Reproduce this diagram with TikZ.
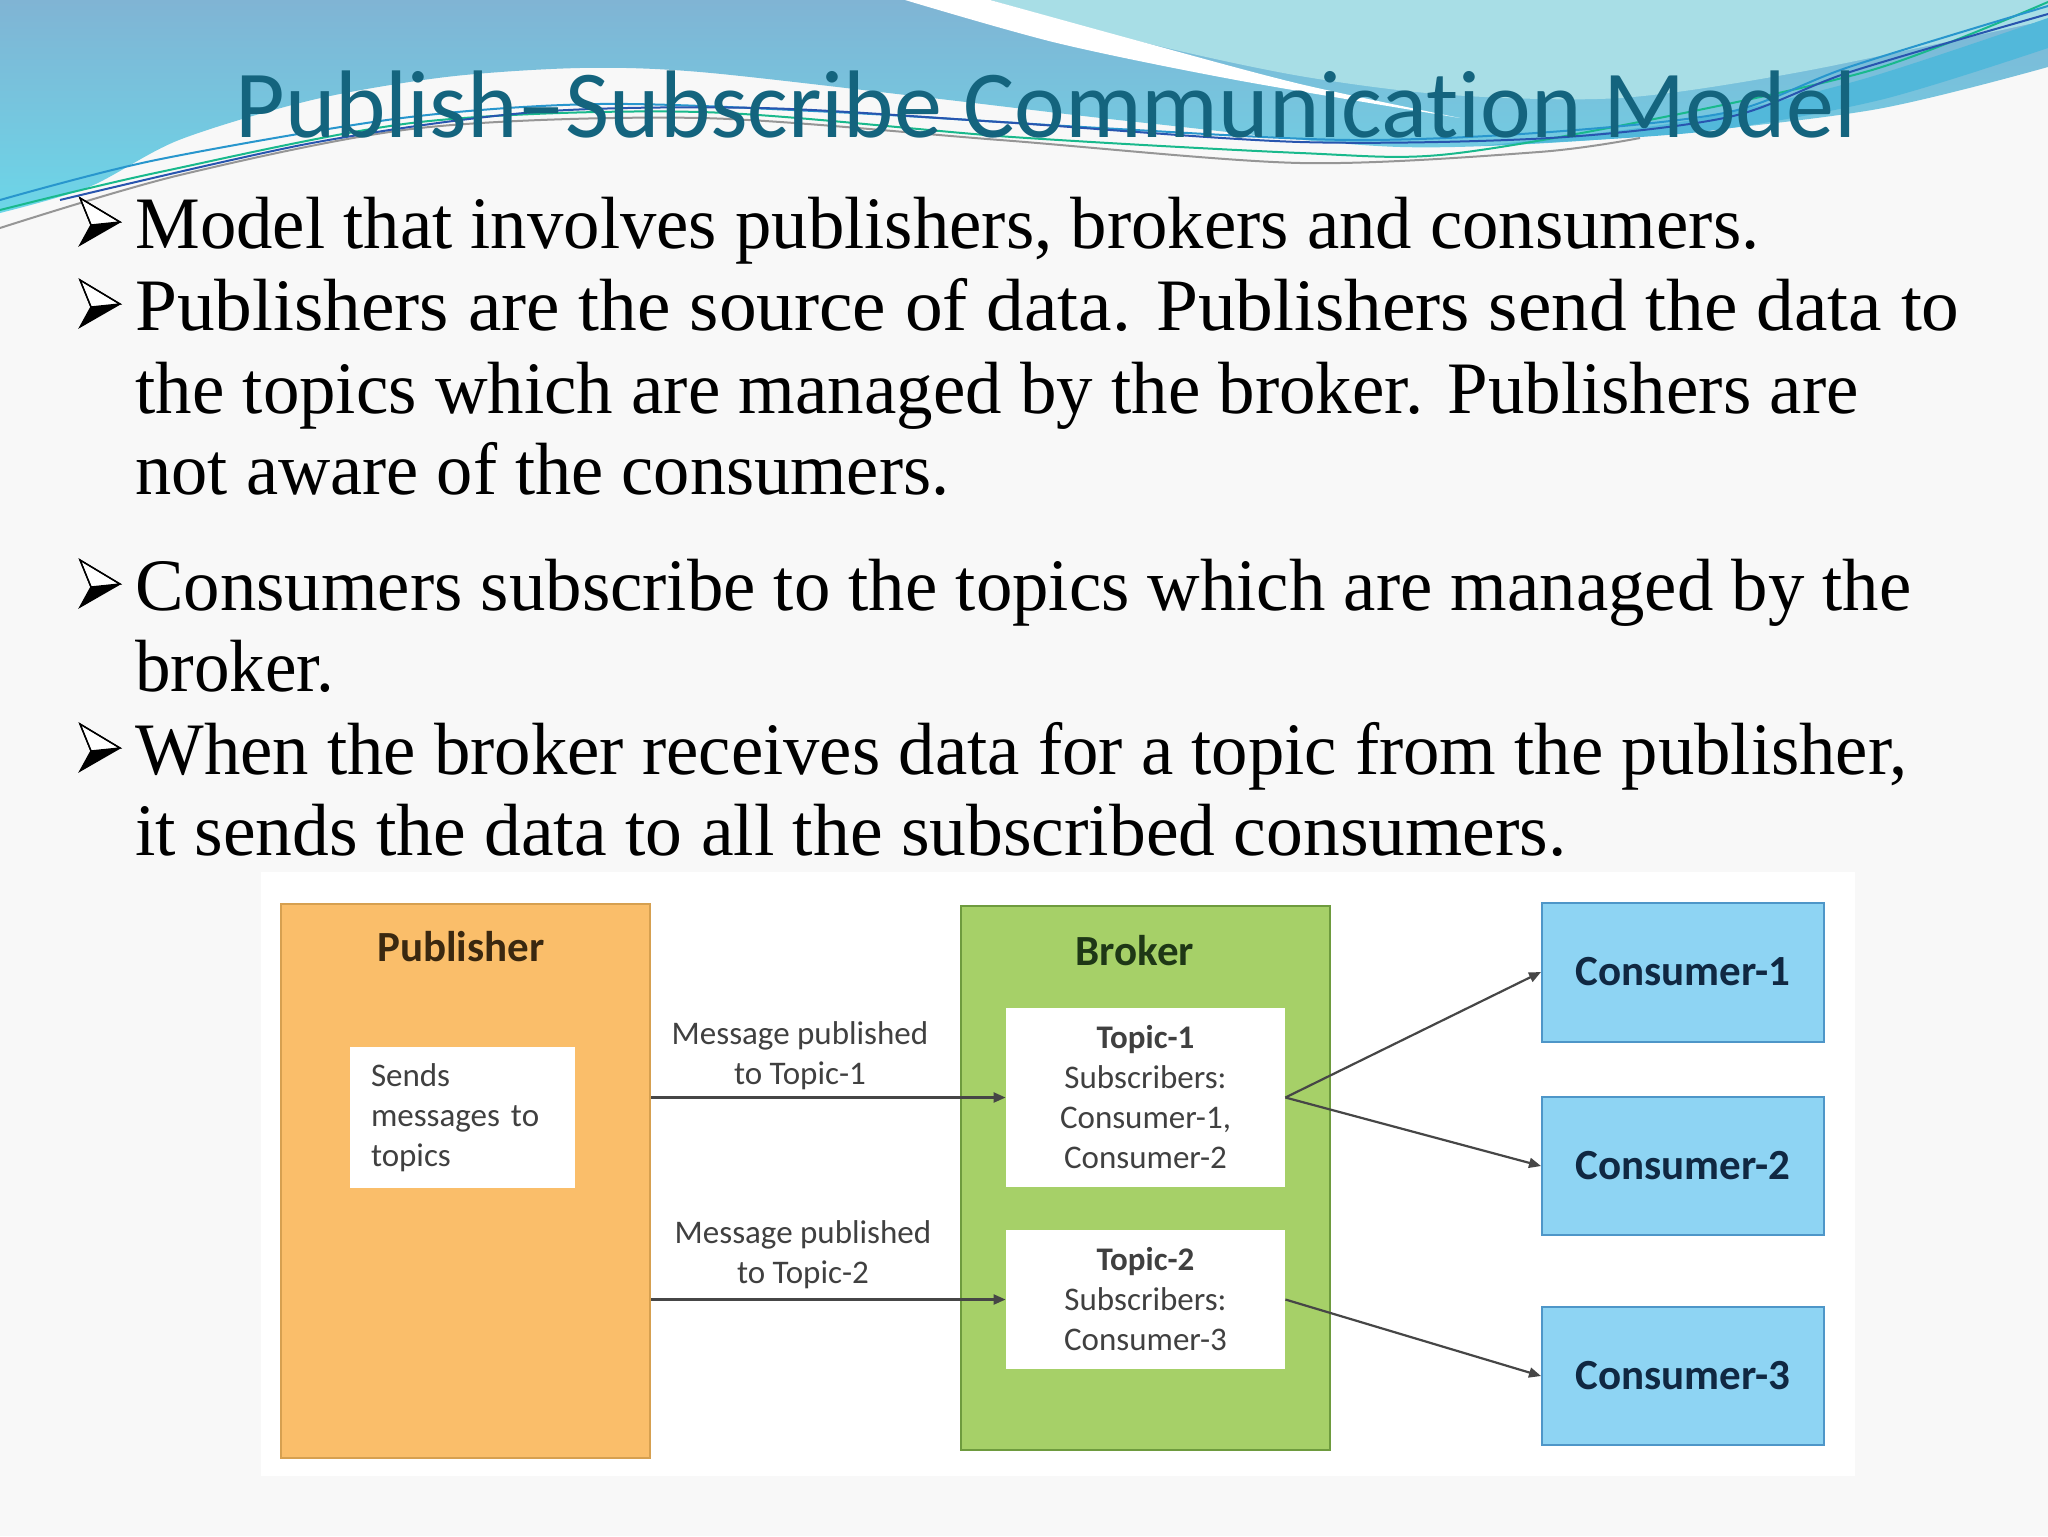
\documentclass[tikz,border=0pt]{standalone}
\usepackage{fontspec}
\usepackage{graphicx}
\setmainfont{Liberation Serif}
\newfontfamily\calfont[Ligatures=CommonOff]{Carlito}
\usetikzlibrary{arrows.meta}
\definecolor{slidebg}{RGB}{248,248,248}
\definecolor{bluetop}{RGB}{128,180,212}
\definecolor{bluebot}{RGB}{108,214,232}
\definecolor{lightcyan}{RGB}{168,222,230}
\definecolor{stripe}{RGB}{82,184,218}
\definecolor{titlecol}{RGB}{20,100,126}
\definecolor{lnblue}{RGB}{40,150,205}
\definecolor{lndark}{RGB}{40,85,175}
\definecolor{lngreen}{RGB}{25,185,140}
\definecolor{lngray}{RGB}{150,150,150}
\definecolor{pubfill}{RGB}{250,190,106}
\definecolor{pubdraw}{RGB}{214,160,80}
\definecolor{brokfill}{RGB}{166,208,104}
\definecolor{brokdraw}{RGB}{110,155,62}
\definecolor{consfill}{RGB}{142,212,243}
\definecolor{consdraw}{RGB}{78,150,200}
\definecolor{txtgray}{RGB}{64,64,64}
\definecolor{pubtxt}{RGB}{58,40,16}
\definecolor{broktxt}{RGB}{30,55,22}
\definecolor{constxt}{RGB}{16,40,66}
\definecolor{arrcol}{RGB}{70,70,70}
\newcommand\fitw[2]{\resizebox{#1}{\height}{#2}}
\begin{document}
\begin{tikzpicture}[x=0.5pt,y=-0.5pt,
  bodyline/.style={anchor=base west, inner sep=0pt, font=\fontsize{37pt}{44pt}\selectfont},
  bul/.pic={
    \fill[black] (11,-23) -- (40,-26) -- (0,-3) -- cycle;
    \filldraw[fill=white, draw=black, line width=0.7pt, line join=miter] (0,-50) -- (40,-26) -- (11,-23) -- cycle;
    \draw[black, line width=0.7pt, line join=miter] (0,-50) -- (40,-26) -- (0,-3) -- (11,-23) -- cycle;
  },
  dtext/.style={font=\calfont\fontsize{16.5pt}{20pt}\selectfont, text=txtgray},
  pubbox/.style={draw=pubdraw, fill=pubfill, line width=1pt, inner sep=0pt},
  brokbox/.style={draw=brokdraw, fill=brokfill, line width=1pt, inner sep=0pt},
  consbox/.style={draw=consdraw, fill=consfill, line width=1pt, inner sep=0pt,
    font=\calfont\bfseries\fontsize{21.5pt}{26pt}\selectfont, text=constxt},
  whitebox/.style={fill=white, inner sep=0pt, dtext},
  boxtitle/.style={inner sep=0pt, font=\calfont\bfseries\fontsize{21.5pt}{26pt}\selectfont},
  lbl/.style={dtext, align=center, inner sep=0pt},
  arr/.style={draw=arrcol, line width=1.1pt, -{Triangle[length=6pt,width=5pt]}},
  deco/.style={line width=1pt}
]
\useasboundingbox (0,0) rectangle (2048,1536);
% background
\fill[slidebg] (0,0) rectangle (2048,1536);
\shade[top color=bluetop, bottom color=bluebot]
  plot[smooth] coordinates {(2048,67) (1872,110) (1634,137) (1400,147) (1146,123) (923,97) (700,72) (580,68) (446,77) (312,100) (179,140) (89,187) (0,213)}
  -- (0,0) -- (2048,0) -- cycle;
\fill[lightcyan] plot[smooth] coordinates {(990,0) (1146,43) (1300,76) (1450,95) (1620,98) (1800,72) (2048,20)} -- (2048,0) -- cycle;
\fill[stripe] plot[smooth] coordinates {(1480,146) (1680,122) (1860,80) (2048,18)} -- (2048,48) -- plot[smooth] coordinates {(2048,48) (1880,100) (1700,132) (1480,146)} -- cycle;
\fill[white] plot[smooth] coordinates {(905,0) (1057,43) (1236,80) (1460,118)} -- plot[smooth] coordinates {(1460,118) (1300,84) (1146,43) (990,0)} -- cycle;
% decorative lines
\draw[deco, lngray] plot[smooth] coordinates {(0,228) (180,175) (420,128) (700,118) (1000,140) (1300,163) (1539,152) (1640,138)};
\draw[deco, lngreen] plot[smooth] coordinates {(0,210) (160,172) (420,122) (700,112) (1012,137) (1300,153) (1440,155) (1634,123) (1872,70) (2048,2)};
\draw[deco, lnblue] plot[smooth] coordinates {(0,200) (156,160) (402,118) (600,104) (834,112) (1100,128) (1350,140) (1550,132) (1729,112) (1849,67) (2048,6)};
\draw[deco, lndark] plot[smooth] coordinates {(60,200) (312,143) (536,112) (760,108) (1000,122) (1300,142) (1550,138) (1729,117) (1850,72) (2048,14)};
% title
\node[anchor=base west, inner sep=0pt, font=\calfont\fontsize{48pt}{58pt}\selectfont, text=titlecol] (title) at (235,137) {Publish–Subscribe Communication Model};
% bullets and body text
\pic at (80,248) {bul};
\pic at (80,330) {bul};
\pic at (80,610) {bul};
\pic at (80,774) {bul};
\node[bodyline] (l1) at (135,248) {\fitw{812pt}{Model that involves publishers, brokers and consumers.}};
\node[bodyline] (l2) at (135,330) {\fitw{912pt}{Publishers are the source of data. Publishers send the data to}};
\node[bodyline] (l3) at (135,413) {\fitw{861.5pt}{the topics which are managed by the broker. Publishers are}};
\node[bodyline] (l4) at (135,494) {\fitw{407pt}{not aware of the consumers.}};
\node[bodyline] (l5) at (135,610) {\fitw{888pt}{Consumers subscribe to the topics which are managed by the}};
\node[bodyline] (l6) at (135,691) {\fitw{99.5pt}{broker.}};
\node[bodyline] (l7) at (135,774) {\fitw{886pt}{When the broker receives data for a topic from the publisher,}};
\node[bodyline] (l8) at (135,855) {\fitw{715.5pt}{it sends the data to all the subscribed consumers.}};
% diagram
\node[fill=white, inner sep=0pt, minimum width=797pt, minimum height=302pt] (diag) at (1058,1174) {};
\node[pubbox, minimum width=184.5pt, minimum height=277pt] (pub) at (465.5,1181) {};
\node[boxtitle, text=pubtxt] (pubt) at (461,947) {Publisher};
\node[whitebox, minimum width=112.5pt, minimum height=70.5pt, text width=91.5pt, align=left] (sends) at (462.5,1117.5) {Sends\\messages to\\topics};
\node[brokbox, minimum width=184.5pt, minimum height=272pt] (brok) at (1145.5,1178) {};
\node[boxtitle, text=broktxt] (brokt) at (1135,951) {Broker};
\node[whitebox, minimum width=139.5pt, minimum height=89.5pt, align=center] (t1) at (1145.5,1097.5) {\textbf{Topic-1}\\Subscribers:\\Consumer-1,\\Consumer-2};
\node[whitebox, minimum width=139.5pt, minimum height=69.5pt, align=center] (t2) at (1145.5,1299.5) {\textbf{Topic-2}\\Subscribers:\\Consumer-3};
\node[consbox, minimum width=141pt, minimum height=69.5pt] (c1) at (1683,972) {Consumer-1};
\node[consbox, minimum width=141pt, minimum height=69pt] (c2) at (1683,1166) {Consumer-2};
\node[consbox, minimum width=141pt, minimum height=69pt] (c3) at (1683,1376) {Consumer-3};
\node[lbl] (m1) at (800,1056) {Message published\\to Topic-1};
\node[lbl] (m2) at (803,1255) {Message published\\to Topic-2};
\draw[arr] (pub.east |- t1.west) -- (t1.west);
\draw[arr] (pub.east |- t2.west) -- (t2.west);
\draw[arr] (t1.east) -- (c1.west);
\draw[arr] (t1.east) -- (c2.west);
\draw[arr] (t2.east) -- (c3.west);
\end{tikzpicture}
\end{document}
